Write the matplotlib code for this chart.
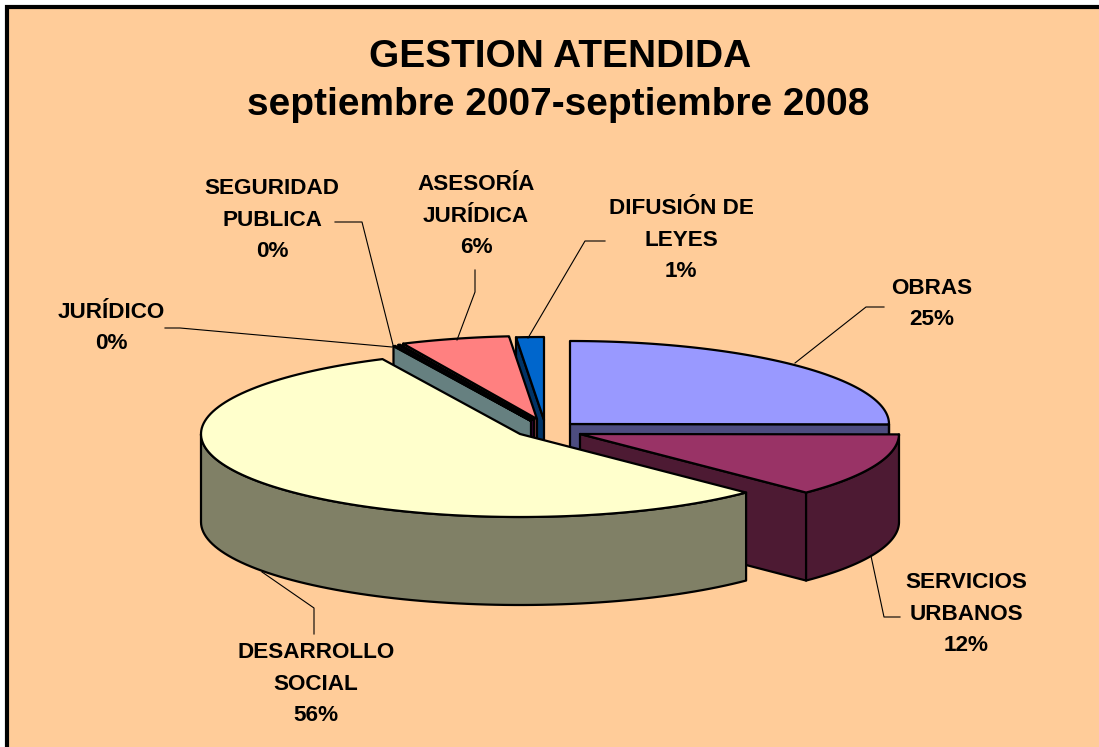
import numpy as np
import matplotlib
matplotlib.use("Agg")
import matplotlib.pyplot as plt
from matplotlib.patches import Polygon, Rectangle

# data
categories = ["OBRAS", "SERVICIOS\nURBANOS", "DESARROLLO\nSOCIAL", "JURÍDICO",
              "SEGURIDAD\nPUBLICA", "ASESORÍA\nJURÍDICA", "DIFUSIÓN DE\nLEYES"]
values = [25.1, 12.4, 55.5, 0.1, 0.1, 5.5, 1.4]
title_lines = ["GESTION ATENDIDA", "septiembre 2007-septiembre 2008"]

# colours and layout
top_colors = ["#9999FF", "#993366", "#FFFFCC", "#CCFFFF", "#660066", "#FF8080", "#0066CC"]
side_colors = ["#4D4D80", "#4D1A33", "#808066", "#668080", "#330033", "#804040", "#003366"]
apex = [(570, 424), (580, 434), (520, 434), (531, 421), (534, 420), (537, 419), (544, 420)]
draw_order = [6, 5, 4, 3, 0, 1, 2]
RX, RY, DEPTH = 319, 83, 88
label_pos = [(932, 304), (966, 614), (316, 684), (111, 328), (272, 220), (476, 216), (681, 240)]
leaders = [
    [(795, 363), (866, 307), (884, 307)],
    [(871, 556), (884, 617), (900, 617)],
    [(262, 572), (314, 608), (314, 634)],
    [(392, 347), (180, 328), (165, 328)],
    [(393, 345), (362, 222), (335, 222)],
    [(457, 340), (475, 292), (475, 270)],
    [(528, 338), (585, 241), (605, 241)],
]

plt.rcParams["font.family"] = ["Liberation Sans", "DejaVu Sans"]
fig = plt.figure(figsize=(10.99, 7.47), dpi=100, facecolor="white")
ax = fig.add_axes([0, 0, 1, 1])
ax.set_xlim(0, 1099)
ax.set_ylim(747, 0)
ax.axis("off")

ax.add_patch(Rectangle((7, 7), 1200, 900, facecolor="#FFCC99", edgecolor="black", lw=3, zorder=0))


def pt(c, a):
    r = np.radians(a)
    return np.array([c[0] + RX * np.sin(r), c[1] - RY * np.cos(r)])


def face(points, color, z):
    ax.add_patch(Polygon(points, closed=True, facecolor=color, edgecolor="black",
                         lw=1.6, joinstyle="round", zorder=z))


edges = 360 * np.concatenate([[0], np.cumsum(values)]) / sum(values)
z = 1
for i in draw_order:
    a0, a1 = edges[i], edges[i + 1]
    c = np.array(apex[i], float)
    drop = np.array([0, DEPTH])
    # visible cut faces
    for a, visible in ((a0, np.sin(np.radians(a0)) < -1e-6), (a1, np.sin(np.radians(a1)) > 1e-6)):
        if visible:
            p = pt(c, a)
            face([c, p, p + drop, c + drop], side_colors[i], z)
            z += 1
    # outer wall, front half only
    w0, w1 = max(a0, 90), min(a1, 270)
    if w1 > w0:
        arc = np.array([pt(c, a) for a in np.linspace(w0, w1, 80)])
        face(np.vstack([arc, arc[::-1] + drop]), side_colors[i], z)
        z += 1
    # top
    arc = np.array([pt(c, a) for a in np.linspace(a0, a1, 120)])
    face(np.vstack([[c], arc]), top_colors[i], z)
    z += 1

for line in leaders:
    xs, ys = zip(*line)
    ax.plot(xs, ys, color="black", lw=0.8, zorder=z)
z += 1

for name, v, (x, y) in zip(categories, values, label_pos):
    ax.text(x, y, f"{name}\n{v:.0f}%", ha="center", va="center", fontsize=16.2,
            fontweight="bold", linespacing=1.68, color="black", zorder=z)

ax.text(560, 57, title_lines[0], ha="center", va="center", fontsize=28, fontweight="bold")
ax.text(558, 105, title_lines[1], ha="center", va="center", fontsize=28, fontweight="bold")

fig.savefig("out.png", dpi=100, facecolor="white")
